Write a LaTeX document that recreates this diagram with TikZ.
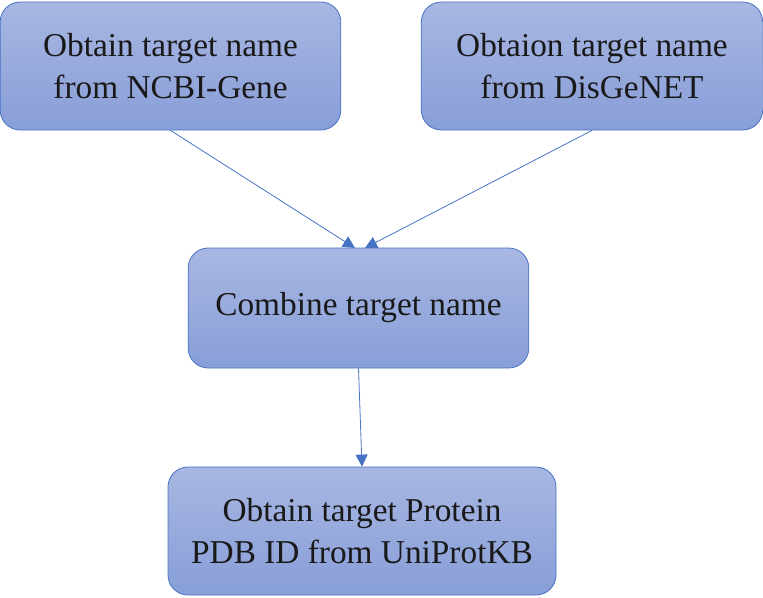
\documentclass[tikz,border=0pt]{standalone}
\usepackage{fontspec}
\setmainfont{Liberation Serif}
\usetikzlibrary{arrows.meta}

\definecolor{boxtop}{RGB}{168,183,226}
\definecolor{boxbot}{RGB}{136,158,216}
\definecolor{boxline}{RGB}{72,114,196}

\begin{document}
\begin{tikzpicture}[x=0.75pt,y=-0.75pt,
		stepbox/.style={draw=boxline, line width=0.6pt, rounded corners=15pt,
			top color=boxtop, bottom color=boxbot, align=center,
			font=\fontsize{25}{31}\selectfont, text=black!90, inner sep=0pt},
		link/.style={draw=boxline, line width=0.6pt, -{Triangle[length=9pt,width=9pt]}}]
			\useasboundingbox (0,0) rectangle (763,597);
			%%%%%%%%%%%%%%%%%%%%%%%%%%%%%%%%
			\node[stepbox, minimum width=255.5pt, minimum height=96pt] (ncbi) at (170.5,66) {Obtain target name\\from NCBI-Gene};
			\node[stepbox, minimum width=256pt, minimum height=96pt] (disgenet) at (592,66) {Obtaion target name\\from DisGeNET};
			\node[stepbox, minimum width=255.5pt, minimum height=90pt] (combine) at (358.5,308) {Combine target name};
			\node[stepbox, minimum width=291pt, minimum height=96pt] (pdb) at (362,531) {Obtain target Protein\\PDB ID from UniProtKB};
			%%%%%%%%%%%%%%%%%%%%%%%%%%%%%
			\coordinate (inA) at (355,248);
			\coordinate (inB) at (365,248);
			\draw[link] (ncbi.south) -- (inA);
			\draw[link] (disgenet.south) -- (inB);
			\draw[link] (combine.south) -- (pdb.north);
		\end{tikzpicture}
\end{document}
